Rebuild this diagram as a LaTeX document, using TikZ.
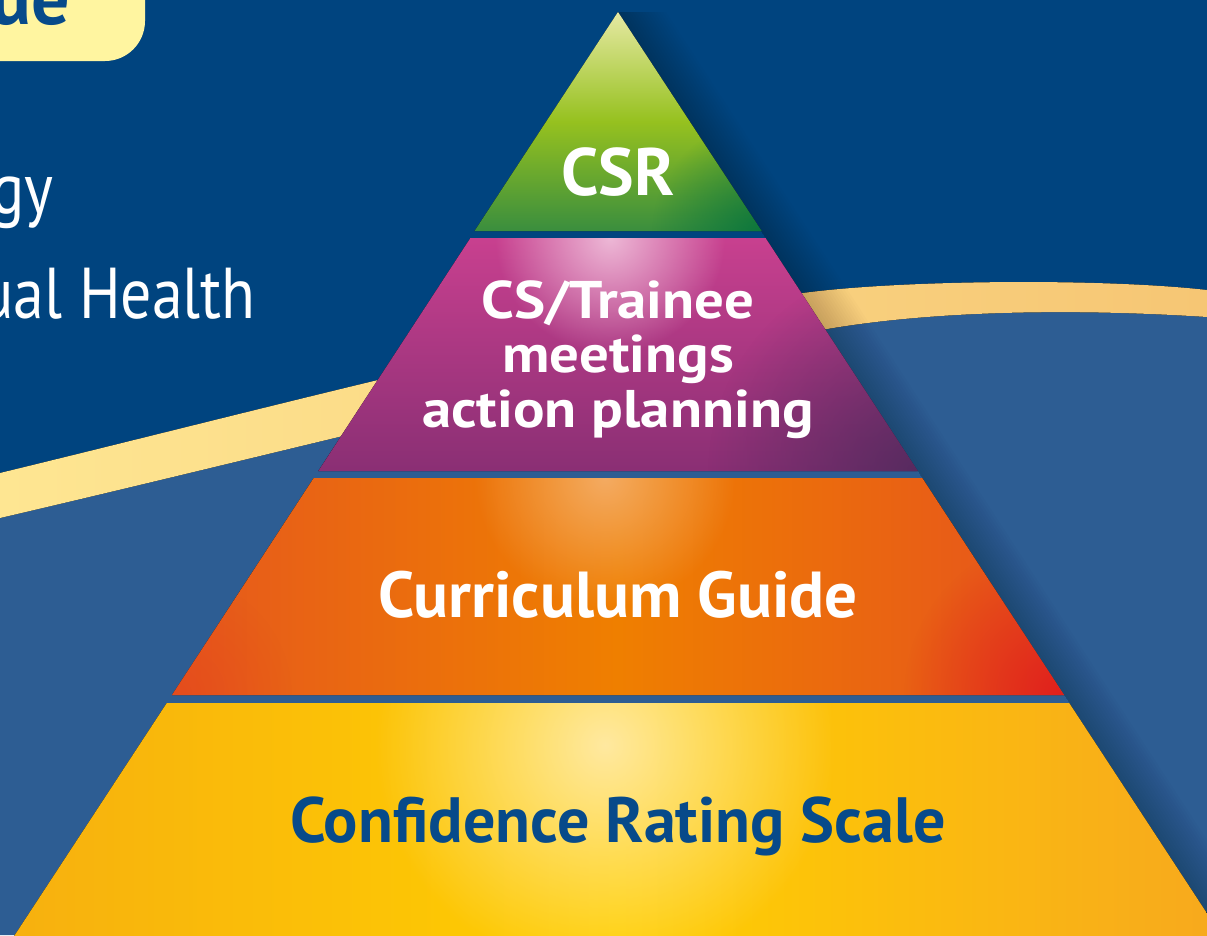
\documentclass[tikz,border=0pt]{standalone}
\usepackage{fontspec}
\setmainfont{PT Sans}
\usepackage{xcolor}
\usetikzlibrary{fadings}

\definecolor{navy}{HTML}{00447F}
\definecolor{sea}{HTML}{2D5D93}
\definecolor{inkblue}{HTML}{074A8A}
\definecolor{lemon}{HTML}{FFF5A0}
\definecolor{bandL}{HTML}{FEE692}
\definecolor{bandR}{HTML}{F6C674}
% tier 1 (green)
\definecolor{grTop}{HTML}{E6E9A3}
\definecolor{grMid}{HTML}{96C11F}
\definecolor{grBot}{HTML}{3A8E3E}
\definecolor{grDark}{HTML}{00703C}
% tier 2 (magenta)
\definecolor{mgTop}{HTML}{C8408F}
\definecolor{mgBot}{HTML}{8A2F74}
\definecolor{mgDark}{HTML}{4E2A5C}
\definecolor{mgHi}{HTML}{EDB8D6}
% tier 3 (orange)
\definecolor{orL}{HTML}{E6581D}
\definecolor{orMid}{HTML}{EF7F00}
\definecolor{orR}{HTML}{E6521E}
\definecolor{orRed}{HTML}{E01F1C}
\definecolor{orRed2}{HTML}{E4441D}
\definecolor{orHi}{HTML}{F4AB62}
% tier 4 (yellow)
\definecolor{ylL}{HTML}{F7B00F}
\definecolor{ylMid}{HTML}{FFCF00}
\definecolor{ylR}{HTML}{F7A81E}
\definecolor{ylHi}{HTML}{FFE9A0}
\tikzfading[name=glow, inner color=transparent!0, outer color=transparent!100]

\newcommand{\widen}[1]{\scalebox{1.11}[1]{#1}}
\newcommand{\narrow}[1]{\scalebox{0.86}[1]{#1}}

\begin{document}
\begin{tikzpicture}[
  x=1pt, y=-1pt,
  label/.style={
    anchor=base,
    text=white,
    align=center,
    inner sep=0pt
  },
  side/.style={
    anchor=base east,
    text=white,
    inner sep=0pt,
    font=\fontsize{72}{72}\selectfont
  }
]
\useasboundingbox (0,0) rectangle (1207,935);
\clip (0,0) rectangle (1207,935);

% Background
\fill[navy] (0,0) rectangle (1207,935);
\fill[sea] (0,518) .. controls (300,448) and (620,365) .. (827,329)
  .. controls (950,308) and (1100,310) .. (1207,317) -- (1207,935) -- (0,935) -- cycle;
\fill[left color=bandL, right color=bandR]
  (0,473) .. controls (300,400) and (600,320) .. (803,293)
  .. controls (900,280) and (1100,278) .. (1207,290) -- (1207,317)
  .. controls (1100,310) and (950,308) .. (827,329)
  .. controls (620,365) and (300,448) .. (0,518) -- cycle;

% Title box and side texts
\fill[lemon, rounded corners=40pt] (-60,-60) rectangle (145,61);
\node[anchor=base east, inner sep=0pt, text=inkblue,
  font=\bfseries\fontsize{76}{76}\selectfont] (title) at (70,24) {ue};
\node[side] (topic1) at (54,213) {\narrow{gy}};
\node[side] (topic2) at (256,318) {\narrow{ual Health}};

% Shadow on the right of the pyramid
\foreach \s in {3,6,...,48}
  \fill[black, opacity=0.011] (618,12) -- (1231,950) -- ++(\s,0) -- (618+\s,12) -- cycle;

% Tier 1
\fill[top color=grTop, bottom color=grBot, middle color=grMid]
  (618,12) -- (761.5,231) -- (474.5,231) -- cycle;
\begin{scope}
  \clip (618,12) -- (761.5,231) -- (474.5,231) -- cycle;
  \fill[grDark, path fading=glow, opacity=0.8] (762,231) circle (110);
\end{scope}

% Tier 2
\fill[top color=mgTop, bottom color=mgBot]
  (470.4,238) -- (765.6,238) -- (917.7,471) -- (318.3,471) -- cycle;
\begin{scope}
  \clip (470.4,238) -- (765.6,238) -- (917.7,471) -- (318.3,471) -- cycle;
  \fill[mgDark, path fading=glow, opacity=0.85] (918,471) circle (210);
  \fill[mgHi, path fading=glow] (610,238) circle (115);
\end{scope}

% Tier 3
\fill[left color=orL, right color=orR, middle color=orMid]
  (313.7,478) -- (922.3,478) -- (1064,695) -- (172,695) -- cycle;
\begin{scope}
  \clip (313.7,478) -- (922.3,478) -- (1064,695) -- (172,695) -- cycle;
  \fill[orRed, path fading=glow] (1064,695) circle (160);
  \fill[orRed2, path fading=glow, opacity=0.6] (172,695) circle (120);
  \fill[orHi, path fading=glow] (605,478) circle (130);
\end{scope}

% Tier 4
\fill[left color=ylL, right color=ylR, middle color=ylMid]
  (166.8,703) -- (1069.2,703) -- (1231,950) -- (5,950) -- cycle;
\begin{scope}
  \clip (166.8,703) -- (1069.2,703) -- (1231,950) -- (5,950) -- cycle;
  \fill[ylHi, path fading=glow] (605,745) circle (230);
\end{scope}

% Tier labels
\node[label, font=\bfseries\fontsize{67}{67}\selectfont] (csr) at (618,195) {CSR};
\node[label, font=\bfseries\fontsize{53}{54.5}\selectfont] (meetings) at (618,427)
  {\widen{CS/Trainee}\\\widen{meetings}\\\widen{action planning}};
\node[label, font=\bfseries\fontsize{65}{65}\selectfont] (guide) at (618,617) {Curriculum Guide};
\node[label, text=inkblue, font=\bfseries\fontsize{64}{64}\selectfont] (scale) at (618,842)
  {Confidence Rating Scale};

\end{tikzpicture}
\end{document}
